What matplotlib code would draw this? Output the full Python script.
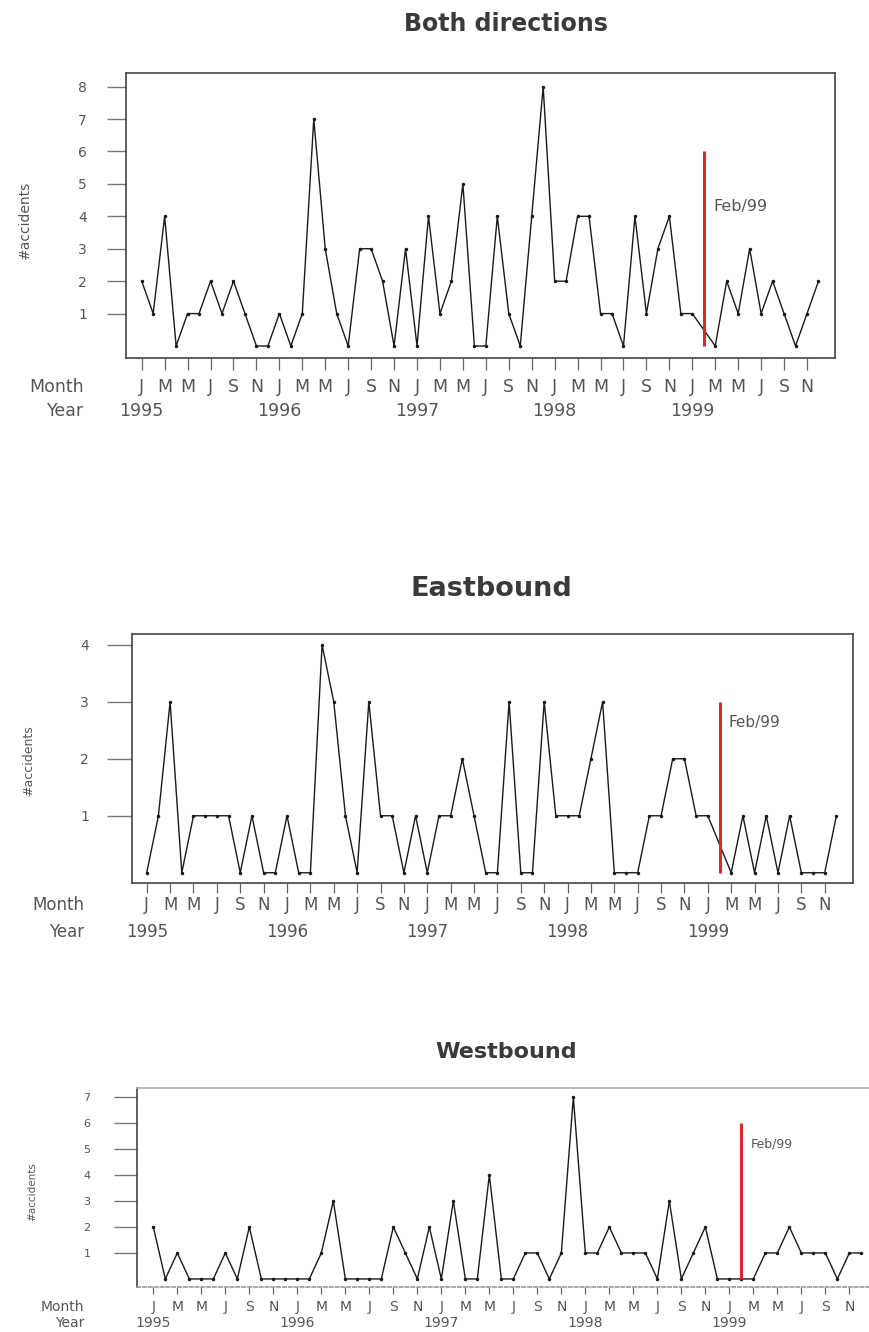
import matplotlib.pyplot as plt
import matplotlib.transforms as mtransforms

# monthly accident counts, Jan 1995 .. Dec 1999
both = [2, 1, 4, 0, 1, 1, 2, 1, 2, 1, 0, 0,
        1, 0, 1, 7, 3, 1, 0, 3, 3, 2, 0, 3,
        0, 4, 1, 2, 5, 0, 0, 4, 1, 0, 4, 8,
        2, 2, 4, 4, 1, 1, 0, 4, 1, 3, 4, 1,
        1, 0.5, 0, 2, 1, 3, 1, 2, 1, 0, 1, 2]
east = [0, 1, 3, 0, 1, 1, 1, 1, 0, 1, 0, 0,
        1, 0, 0, 4, 3, 1, 0, 3, 1, 1, 0, 1,
        0, 1, 1, 2, 1, 0, 0, 3, 0, 0, 3, 1,
        1, 1, 2, 3, 0, 0, 0, 1, 1, 2, 2, 1,
        1, 0.5, 0, 1, 0, 1, 0, 1, 0, 0, 0, 1]
west = [2, 0, 1, 0, 0, 0, 1, 0, 2, 0, 0, 0,
        0, 0, 1, 3, 0, 0, 0, 0, 2, 1, 0, 2,
        0, 3, 0, 0, 4, 0, 0, 1, 1, 0, 1, 7,
        1, 1, 2, 1, 1, 1, 0, 3, 0, 1, 2, 0,
        0, 0, 0, 1, 1, 2, 1, 1, 1, 0, 1, 1]

month_letters = ["J", "M", "M", "J", "S", "N"]
years = ["1995", "1996", "1997", "1998", "1999"]
cut_month = 49          # Feb/99
cut_label = "Feb/99"

W, H = 870, 1332
GREY = "#555555"


def rect(left, right, top, bottom):
    return [left / W, 1 - bottom / H, (right - left) / W, (bottom - top) / H]


def panel(fig, values, box, xlim, ylim, yticks, red_top, text_y, title, tpos,
          tsize, fs, ytick_fs, ylab_fs, ytick_len, ytick_pad, xtick_len,
          month_y, year_y, ylab_pos, westbound=False):
    ax = fig.add_axes(rect(*box))
    x = list(range(len(values)))
    ax.plot(x, values, color="#1a1a1a", lw=1.0, marker=".", ms=3.0)
    ax.vlines(cut_month, 0, red_top, color="#e3262c", lw=2.2)
    ax.text(cut_month + 0.8, text_y, cut_label, fontsize=fs - 1, color=GREY,
            va="center", ha="left")

    ax.set_xlim(*xlim)
    ax.set_ylim(*ylim)
    ax.set_yticks(yticks)
    ax.set_yticklabels([str(v) for v in yticks])
    ax.tick_params(axis="y", length=ytick_len, width=1.0, color="#777777",
                   pad=ytick_pad, labelsize=ytick_fs, labelcolor=GREY)
    ax.set_xticks(range(0, len(values), 2))
    ax.set_xticklabels([])
    ax.tick_params(axis="x", length=xtick_len, width=0.9, color="#666666")

    for sp in ax.spines.values():
        sp.set_color("#444444")
        sp.set_linewidth(1.2)
    if westbound:
        ax.spines["top"].set_color("#aaaaaa")
        ax.spines["bottom"].set_color("#999999")
        ax.spines["bottom"].set_linestyle((0, (2, 1.5)))
        ax.spines["right"].set_visible(False)

    # month and year rows under the axis
    tr = mtransforms.blended_transform_factory(ax.transData, ax.transAxes)
    for i, m in enumerate(range(0, len(values), 2)):
        ax.text(m, month_y, month_letters[i % 6], transform=tr, fontsize=fs,
                color=GREY, ha="center", va="center")
    for k, yr in enumerate(years):
        ax.text(12 * k, year_y, yr, transform=tr, fontsize=fs, color=GREY,
                ha="center", va="center")
    tr2 = mtransforms.blended_transform_factory(fig.transFigure, ax.transAxes)
    ax.text(84 / W, month_y, "Month", transform=tr2, fontsize=fs, color=GREY,
            ha="right", va="center")
    ax.text(84 / W, year_y, "Year", transform=tr2, fontsize=fs, color=GREY,
            ha="right", va="center")

    ax.set_ylabel("#accidents", fontsize=ylab_fs, color=GREY)
    ax.yaxis.set_label_coords(*ylab_pos)

    fig.text(tpos[0] / W, 1 - tpos[1] / H, title, fontsize=tsize,
             fontweight="bold", color="#3a3a3a", ha="center", va="center")
    return ax


fig = plt.figure(figsize=(W / 100, H / 100), dpi=100)

panel(fig, both, (126, 835, 73, 358), (-1.37, 60.44), (-0.37, 8.42),
      range(1, 9), 6, 4.3, "Both directions", (506, 24), 17, 12.5,
      10, 10, 14, 14, 8.5, -0.102, -0.186, (-0.133, 0.484))

panel(fig, east, (132, 853, 634, 883), (-1.26, 60.42), (-0.18, 4.19),
      range(1, 5), 3, 2.63, "Eastbound", (491, 589), 19.5, 12,
      10, 9, 18, 13, 7, -0.088, -0.197, (-0.135, 0.49))

panel(fig, west, (137, 879, 1088, 1287), (-1.36, 60.47), (-0.31, 7.35),
      range(1, 8), 6, 5.2, "Westbound", (506, 1052), 16, 10,
      8, 7.5, 16.5, 17, 5, -0.1005, -0.181, (-0.135, 0.482), westbound=True)

fig.savefig("out.png", dpi=100)
